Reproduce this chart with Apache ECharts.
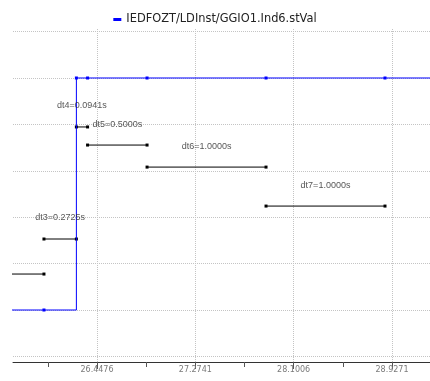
<!DOCTYPE html>
<html>
<head>
<meta charset="utf-8">
<script src="https://cdn.jsdelivr.net/npm/echarts@6/dist/echarts.min.js"></script>
<style>
  html, body { margin: 0; padding: 0; background: #fff; }
  #chart { width: 430px; height: 381px; }
</style>
</head>
<body>
<div id="chart"></div>
<script>
// 信号名称
const seriesName = 'IEDFOZT/LDInst/GGIO1.Ind6.stVal';
// 变位时刻 (s)
const times = [25.0017, 26.0017, 26.2742, 26.3683, 26.8683, 27.8683, 28.8683, 29.8683];
// 状态值
const states = [0, 0, 1, 1, 1, 1, 1, 1];
// 时间差标注所在的高度 (dt2 ~ dt7)
const dtNames = ['dt2', 'dt3', 'dt4', 'dt5', 'dt6', 'dt7'];
const dtLevels = [0.155, 0.306, 0.789, 0.711, 0.616, 0.448];
// 坐标轴刻度
const xTickLabels = ['26.4476', '27.2741', '28.1006', '28.9271'];
const xMinorTicks = [26.0344, 26.8609, 27.6874, 28.5139];
const yTicks = [-0.2, 0, 0.2, 0.4, 0.6, 0.8, 1.0, 1.2];

const gridLine = { show: true, lineStyle: { color: '#c4c4c4', type: [1, 1], width: 1 } };

// 状态曲线
let series = [{
  name: seriesName,
  type: 'line',
  step: 'end',
  data: times.map((t, i) => [t, states[i]]),
  symbol: 'rect',
  symbolSize: 3,
  showSymbol: true,
  lineStyle: { color: '#0000ff', width: 1 },
  itemStyle: { color: '#0000ff' },
  z: 3
}];

// 时间差线段
let labelData = [];
dtNames.forEach((name, i) => {
  let t0 = times[i], t1 = times[i + 1];
  series.push({
    type: 'line',
    data: [[t0, dtLevels[i]], [t1, dtLevels[i]]],
    symbol: 'rect',
    symbolSize: 3,
    showSymbol: true,
    lineStyle: { color: '#000', width: 1 },
    itemStyle: { color: '#000' },
    z: 2
  });
  labelData.push({
    name: name + '=' + (t1 - t0).toFixed(4) + 's',
    value: [(t0 + t1) / 2, dtLevels[i]]
  });
});

series.push({
  type: 'scatter',
  data: labelData,
  symbolSize: 1,
  itemStyle: { color: 'rgba(0,0,0,0)' },
  label: {
    show: true,
    position: 'top',
    distance: 16,
    formatter: '{b}',
    color: '#2a2a2a',
    fontSize: 9,
    fontFamily: 'Liberation Sans'
  },
  z: 4
});

let chart = echarts.init(document.getElementById('chart'), null, { renderer: 'canvas' });
chart.setOption({
  animation: false,
  legend: {
    data: [seriesName],
    top: 9,
    left: 'center',
    icon: 'rect',
    itemWidth: 8,
    itemHeight: 3,
    itemGap: 5,
    textStyle: { color: '#222', fontSize: 11.4, fontFamily: 'DejaVu Sans' }
  },
  grid: { left: 13, right: 0, top: 29, bottom: 19, containLabel: false },
  xAxis: [{
    type: 'value',
    min: 25.7415,
    max: 29.2466,
    position: 'bottom',
    axisLine: { show: true, onZero: false, lineStyle: { color: '#333', width: 1 } },
    axisTick: { show: true, length: 7, customValues: xTickLabels.map(Number), lineStyle: { color: '#555' } },
    axisLabel: {
      show: true,
      customValues: xTickLabels.map(Number),
      formatter: v => v.toFixed(4),
      color: '#7a7a7a',
      fontSize: 8,
      fontFamily: 'DejaVu Sans',
      margin: 4
    },
    splitLine: gridLine
  }, {
    type: 'value',
    min: 25.7415,
    max: 29.2466,
    position: 'bottom',
    axisLine: { show: false, onZero: false },
    axisTick: { show: true, length: 5, customValues: xMinorTicks, lineStyle: { color: '#555' } },
    axisLabel: { show: false },
    splitLine: { show: false }
  }],
  yAxis: {
    type: 'value',
    min: -0.2241,
    max: 1.2112,
    axisLine: { show: false },
    axisTick: { show: false, customValues: yTicks },
    axisLabel: { show: false },
    splitLine: gridLine
  },
  series: series
});
</script>
</body>
</html>
